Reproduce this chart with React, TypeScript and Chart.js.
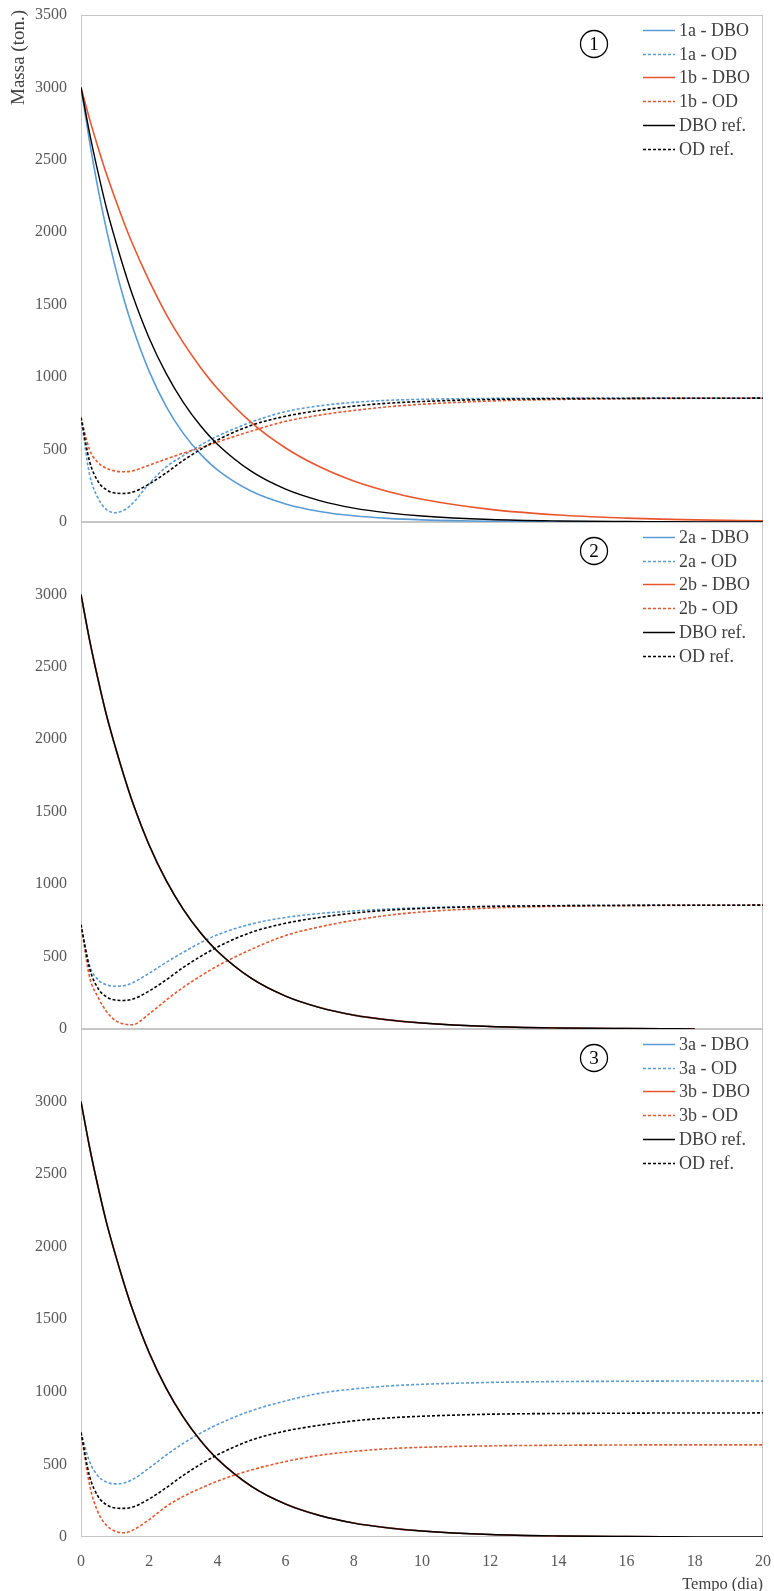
import React, { useEffect, useRef } from 'react';
import { Chart, registerables } from 'chart.js';

Chart.register(...registerables);

const FONT = "'Liberation Serif', 'Times New Roman', serif";

// time (days)
const T = [0, 0.25, 0.5, 0.75, 1, 1.25, 1.5, 2, 2.5, 3, 3.5, 4, 5, 6, 7, 8, 9, 10, 12, 14, 16, 17, 18, 20];
const X_TICK_STEP = 2;
const Y_TICK_STEP = 500;

// Panel 1
const dbo1a = [3000, 2630, 2300, 2015, 1765, 1545, 1355, 1040, 797, 612, 470, 360, 212, 125, 73, 43, 25, 15, 5, 2, 1, 0, 0, 0];
const od1a = [720, 330, 165, 85, 64, 80, 125, 265, 380, 458, 530, 592, 690, 762, 802, 826, 840, 847, 853, 855, 855, 855, 855, 855];
const dbo1b = [3000, 2783, 2586, 2400, 2233, 2073, 1926, 1664, 1434, 1238, 1069, 922, 686, 511, 381, 283, 211, 157, 87, 48, 27, 20, 15, 8];
const od1b = [720, 500, 410, 370, 352, 347, 352, 392, 435, 475, 512, 552, 628, 695, 738, 770, 795, 813, 835, 846, 851, 853, 854, 855];
const dboRef = [3000, 2687, 2413, 2164, 1952, 1755, 1574, 1269, 1024, 826, 666, 537, 349, 227, 148, 96, 63, 41, 17, 7, 3, 2, 1, 1];
const odRef = [720, 420, 280, 222, 200, 197, 205, 262, 340, 425, 500, 566, 668, 730, 770, 800, 820, 832, 846, 851, 853, 854, 854, 855];

// Panel 2
const dbo2a = [3000, 2687, 2413, 2164, 1952, 1755, 1574, 1269, 1024, 826, 666, 537, 349, 227, 148, 96, 63, 41, 17, 7, 3, 2, 1, null];
const od2a = [720, 440, 340, 305, 295, 298, 318, 385, 460, 530, 595, 650, 725, 770, 797, 815, 828, 837, 847, 852, 854, 855, 855, 855];
const dbo2b = [3000, 2687, 2413, 2164, 1952, 1755, 1574, 1269, 1024, 826, 666, 537, 349, 227, 148, 96, 63, 41, 17, 7, 3, 2, 1, null];
const od2b = [720, 360, 220, 120, 60, 35, 29, 105, 200, 288, 365, 435, 550, 645, 705, 750, 785, 808, 835, 847, 852, 853, 854, 855];
const dboRef2 = [3000, 2687, 2413, 2164, 1952, 1755, 1574, 1269, 1024, 826, 666, 537, 349, 227, 148, 96, 63, 41, 17, 7, 3, 2, 1, null];
const odRef2 = [720, 420, 280, 222, 200, 197, 205, 262, 340, 425, 500, 566, 668, 730, 770, 800, 820, 832, 846, 851, 853, 854, 854, 855];

// Panel 3
const dbo3a = [3000, 2687, 2413, 2164, 1952, 1755, 1574, 1269, 1024, 826, 666, 537, 349, 227, 148, 96, 63, 41, 17, 7, 3, 2, null, null];
const od3a = [720, 520, 420, 378, 366, 372, 395, 475, 565, 645, 715, 775, 870, 938, 990, 1020, 1040, 1052, 1065, 1071, 1073, 1074, 1075, 1075];
const dbo3b = [3000, 2687, 2413, 2164, 1952, 1755, 1574, 1269, 1024, 826, 666, 537, 349, 227, 148, 96, 63, 41, 17, 7, 3, 2, null, null];
const od3b = [720, 360, 170, 80, 40, 29, 45, 120, 210, 280, 335, 385, 462, 520, 563, 590, 608, 618, 628, 632, 634, 635, 635, 635];
const dboRef3 = [3000, 2687, 2413, 2164, 1952, 1755, 1574, 1269, 1024, 826, 666, 537, 349, 227, 148, 96, 63, 41, 17, 7, 3, 2, 1, 1];
const odRef3 = [720, 420, 280, 222, 200, 197, 205, 262, 340, 425, 500, 566, 668, 730, 770, 800, 820, 832, 846, 851, 853, 854, 854, 855];

const labels1 = ['1a - DBO', '1a - OD', '1b - DBO', '1b - OD', 'DBO ref.', 'OD ref.'];
const labels2 = ['2a - DBO', '2a - OD', '2b - DBO', '2b - OD', 'DBO ref.', 'OD ref.'];
const labels3 = ['3a - DBO', '3a - OD', '3b - DBO', '3b - OD', 'DBO ref.', 'OD ref.'];

const BLUE = '#5B9BD5';
const RED = '#E8562E';
const BLACK = '#000000';
const COLORS = [BLUE, BLUE, RED, RED, BLACK, BLACK];
const DASHED = [false, true, false, true, false, true];

const decorPlugin = {
  id: 'decor',
  beforeDatasetsDraw(chart: any) {
    const { ctx, chartArea: a } = chart;
    ctx.save();
    ctx.strokeStyle = '#c6c6c6';
    ctx.lineWidth = 1;
    ctx.strokeRect(Math.round(a.left) + 0.5, Math.round(a.top) + 0.5, Math.round(a.right - a.left) - 1, Math.round(a.bottom - a.top) - 1);
    ctx.restore();
  },
  afterDraw(chart: any, _args: any, opts: any) {
    const { ctx, chartArea: a } = chart;
    ctx.save();
    const labels: string[] = opts.labels || [];
    labels.forEach((lab, i) => {
      const y = Math.round(a.top + opts.row0 + i * opts.rowGap) + 0.5;
      ctx.beginPath();
      ctx.strokeStyle = COLORS[i];
      ctx.lineWidth = 1.5;
      ctx.setLineDash(DASHED[i] ? [3, 2] : []);
      ctx.moveTo(643, y);
      ctx.lineTo(675, y);
      ctx.stroke();
      ctx.setLineDash([]);
      ctx.fillStyle = '#404040';
      ctx.font = `18px ${FONT}`;
      ctx.textAlign = 'left';
      ctx.textBaseline = 'middle';
      ctx.fillText(lab, 679, y + 1);
    });
    const cy = a.top + opts.circleY;
    ctx.beginPath();
    ctx.strokeStyle = '#000';
    ctx.lineWidth = 1.3;
    ctx.arc(594, cy, 13.5, 0, Math.PI * 2);
    ctx.stroke();
    ctx.fillStyle = '#000';
    ctx.font = `19px ${FONT}`;
    ctx.textAlign = 'center';
    ctx.textBaseline = 'middle';
    ctx.fillText(opts.num, 594, cy + 1);
    if (opts.yTitle) {
      ctx.translate(19, opts.yTitleY);
      ctx.rotate(-Math.PI / 2);
      ctx.fillStyle = '#404040';
      ctx.font = `19px ${FONT}`;
      ctx.textAlign = 'right';
      ctx.textBaseline = 'middle';
      ctx.fillText(opts.yTitle, 0, 0);
    }
    ctx.restore();
  },
};

type PanelProps = {
  canvasTop: number;
  canvasHeight: number;
  padTop: number;
  padBottom: number;
  series: (number | null)[][];
  labels: string[];
  num: string;
  showX: boolean;
  hideTopTick: boolean;
  yTitle?: string;
};

function Panel(p: PanelProps) {
  const ref = useRef<HTMLCanvasElement | null>(null);
  useEffect(() => {
    if (!ref.current) return;
    const orders = [6, 5, 4, 3, 2, 1];
    const datasets = p.series.map((arr, i) => ({
      label: p.labels[i],
      data: T.map((t, j) => ({ x: t, y: arr[j] })),
      borderColor: COLORS[i],
      backgroundColor: COLORS[i],
      borderWidth: i === 4 ? 1.4 : 1.6,
      borderDash: DASHED[i] ? [3, 2] : [],
      pointRadius: 0,
      fill: false,
      cubicInterpolationMode: 'monotone' as const,
      spanGaps: false,
      order: orders[i],
    }));
    const chart = new Chart(ref.current, {
      type: 'line',
      data: { datasets },
      plugins: [decorPlugin],
      options: {
        animation: false,
        responsive: false,
        events: [],
        layout: { padding: { top: p.padTop, bottom: p.padBottom, left: 0, right: 11 } },
        plugins: {
          legend: { display: false },
          tooltip: { enabled: false },
          decor: {
            labels: p.labels,
            num: p.num,
            row0: 15,
            rowGap: 23.7,
            circleY: 29,
            yTitle: p.yTitle,
            yTitleY: 10 - p.canvasTop,
          },
        } as any,
        scales: {
          x: {
            type: 'linear',
            min: 0,
            max: 20,
            display: p.showX,
            grid: { display: false, drawTicks: false },
            border: { display: false },
            ticks: {
              stepSize: X_TICK_STEP,
              autoSkip: false,
              maxRotation: 0,
              padding: 2,
              color: '#595959',
              font: { family: FONT, size: 16, lineHeight: 2.8 },
            },
            title: {
              display: p.showX,
              text: 'Tempo (dia)',
              align: 'end',
              color: '#404040',
              font: { family: FONT, size: 16.5, lineHeight: 0.8 },
              padding: { top: 0, bottom: 0 },
            },
            afterFit: (s: any) => {
              if (p.showX) s.height = 54;
            },
          },
          y: {
            type: 'linear',
            min: 0,
            max: 3500,
            grid: { display: false, drawTicks: false },
            border: { display: false },
            ticks: {
              stepSize: Y_TICK_STEP,
              padding: 14,
              color: '#595959',
              font: { family: FONT, size: 16 },
              callback: (v: any) => (p.hideTopTick && v === 3500 ? '' : String(v)),
            },
            afterFit: (s: any) => {
              s.width = 81;
            },
          },
        },
      } as any,
    });
    return () => chart.destroy();
  }, []);
  return (
    <canvas
      ref={ref}
      width={774}
      height={p.canvasHeight}
      style={{ position: 'absolute', left: 0, top: p.canvasTop, width: 774, height: p.canvasHeight }}
    />
  );
}

export default function App() {
  return (
    <div style={{ position: 'absolute', left: 0, top: 0, width: 774, height: 1591, background: '#fff', overflow: 'hidden' }}>
      <Panel
        canvasTop={-15}
        canvasHeight={567}
        padTop={30}
        padBottom={30}
        series={[dbo1a, od1a, dbo1b, od1b, dboRef, odRef]}
        labels={labels1}
        num="1"
        showX={false}
        hideTopTick={false}
        yTitle="Massa (ton.)"
      />
      <Panel
        canvasTop={492}
        canvasHeight={567}
        padTop={30}
        padBottom={30}
        series={[dbo2a, od2a, dbo2b, od2b, dboRef2, odRef2]}
        labels={labels2}
        num="2"
        showX={false}
        hideTopTick={true}
      />
      <Panel
        canvasTop={999}
        canvasHeight={592}
        padTop={30}
        padBottom={0}
        series={[dbo3a, od3a, dbo3b, od3b, dboRef3, odRef3]}
        labels={labels3}
        num="3"
        showX={true}
        hideTopTick={true}
      />
    </div>
  );
}
